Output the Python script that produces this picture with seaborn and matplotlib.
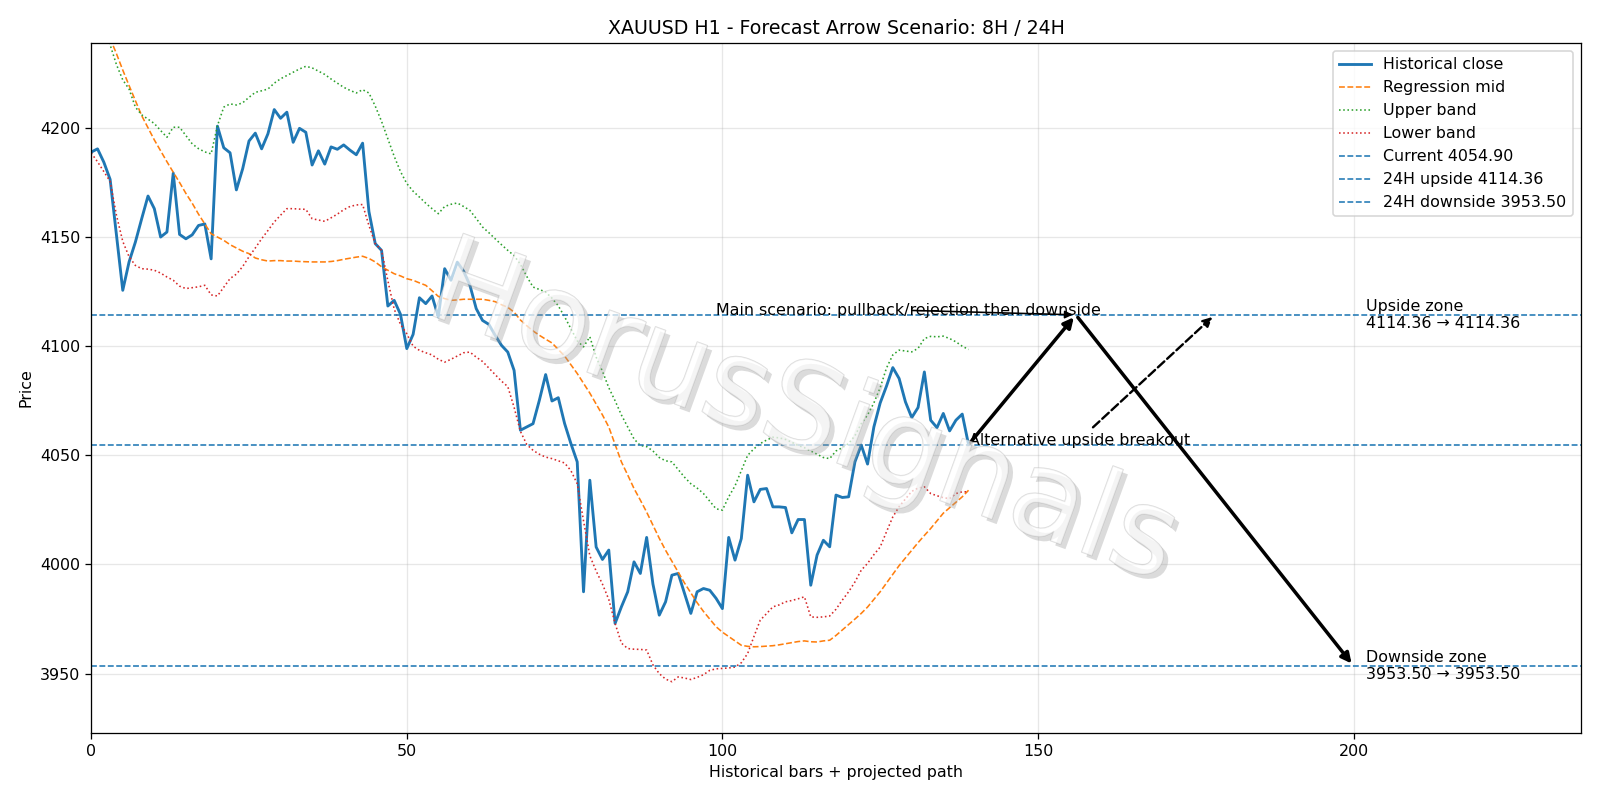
import numpy as np
import pandas as pd
import matplotlib
matplotlib.use("Agg")
import matplotlib.pyplot as plt
import matplotlib.patheffects as pe
import seaborn as sns

# Historical close and regression channel
close = [4188.9, 4190.4, 4184.3, 4176.4, 4151, 4125.6, 4138.6, 4147.7, 4158.4, 4168.8,
         4163, 4150, 4152.3, 4179.3, 4151.2, 4149.2, 4151, 4155.3, 4156, 4140,
         4200.8, 4190.9, 4188.6, 4171.6, 4181.3, 4194, 4197.6, 4190.4, 4197.3, 4208.4,
         4204.4, 4207.2, 4193.4, 4199.8, 4198, 4183, 4189.5, 4183.4, 4191.3, 4190.2,
         4192.2, 4189.8, 4187.7, 4193, 4161.7, 4147, 4143.9, 4118.4, 4121, 4114.6,
         4098.9, 4105.4, 4122.2, 4119.5, 4123, 4113.4, 4135.5, 4130.2, 4138.5, 4134.4,
         4127.9, 4117.2, 4111.8, 4110, 4105, 4100.4, 4097.3, 4088.9, 4061.5, 4063,
         4064.5, 4075.2, 4087, 4074.9, 4076.4, 4064.6, 4055.4, 4047, 3987.5, 4038.6,
         4008, 4002.3, 4006.6, 3973, 3980.6, 3987.5, 4001.2, 3995.9, 4012.4, 3991,
         3976.8, 3982.9, 3995.1, 3995.9, 3986.7, 3977.6, 3987.5, 3989, 3988.2, 3984.5,
         3979.8, 4012.4, 4002, 4011.9, 4040.9, 4028.7, 4034.4, 4034.8, 4026.4, 4026.4,
         4026.1, 4014.5, 4020.6, 4020.6, 3990.5, 4004.3, 4011.1, 4008.1, 4031.8, 4030.7,
         4031, 4047, 4054.7, 4046, 4063, 4074, 4081.7, 4090.2, 4085.2, 4074.5,
         4067.3, 4071.9, 4088.2, 4066.1, 4062.7, 4069.2, 4061.2, 4066.1, 4068.9, 4054.9]

reg_mid = [4263, 4255.5, 4248, 4241, 4234, 4226.5, 4219.4, 4212.5, 4205.6, 4200,
           4194.5, 4189.5, 4184.5, 4179.7, 4175, 4170, 4165.5, 4160.5, 4156, 4151.5,
           4150, 4148.5, 4146.5, 4145, 4143.5, 4142.4, 4140.4, 4139.6, 4139, 4139.2,
           4139.2, 4139, 4139, 4138.8, 4138.7, 4138.6, 4138.6, 4138.6, 4138.8, 4139.2,
           4139.8, 4140.3, 4140.8, 4141.2, 4140.2, 4138.6, 4136.4, 4134.8, 4133.2, 4132.2,
           4130.9, 4130.2, 4129, 4127.9, 4125.4, 4122.8, 4121.8, 4121, 4121.2, 4121.5,
           4121.5, 4121.5, 4121.5, 4121, 4120.4, 4119, 4117.8, 4115.6, 4112, 4109.4,
           4107, 4105, 4103.2, 4101.5, 4098.5, 4095.5, 4091.5, 4087.5, 4083, 4078.5,
           4073.5, 4068.5, 4063, 4055, 4047, 4041, 4034.8, 4029.5, 4024, 4018,
           4012, 4006.5, 4001.5, 3996.5, 3991.5, 3987, 3982.5, 3978.5, 3975, 3971.5,
           3969, 3967, 3965, 3963, 3962.5, 3962.3, 3962.4, 3962.6, 3962.8, 3963.2,
           3963.7, 3964.2, 3964.7, 3965, 3964.6, 3964.5, 3965, 3965.3, 3967.5, 3970,
           3972.5, 3975, 3977.6, 3980.5, 3984, 3987.5, 3991.5, 3995.5, 3999.5, 4003,
           4006.5, 4010, 4013.3, 4016.5, 4020, 4023.5, 4026, 4028.5, 4031, 4034]

upper_band = [4262, 4254, 4246, 4238, 4229, 4222, 4217.8, 4209.5, 4206, 4204,
              4202, 4198.8, 4195.7, 4200.3, 4200.3, 4196.5, 4192.7, 4190.5, 4189, 4188.1,
              4201, 4209.5, 4211, 4210.5, 4211.5, 4214, 4216.3, 4217, 4217.8, 4220.5,
              4222.5, 4224, 4225.5, 4227, 4228.2, 4227.5, 4226, 4224.5, 4222.4, 4220.5,
              4218.6, 4217.2, 4216, 4217.5, 4216, 4210, 4203, 4195, 4187, 4180,
              4174.5, 4171, 4168.3, 4165.5, 4163, 4160.7, 4164, 4165, 4165.6, 4164,
              4162.2, 4158.5, 4154.6, 4152, 4149.2, 4146.5, 4143.9, 4141.5, 4137.5, 4132,
              4127.1, 4126, 4124.8, 4122, 4118.5, 4113.5, 4108, 4102.5, 4099.7, 4104.3,
              4095, 4088.5, 4081, 4075, 4068.5, 4063, 4057.5, 4054.5, 4054, 4052,
              4049, 4047.5, 4047, 4043.5, 4040, 4037, 4035, 4032.5, 4029, 4025.5,
              4024.9, 4031, 4036, 4043, 4050, 4053, 4055.4, 4057, 4058.3, 4058,
              4057.3, 4056, 4054.5, 4053.5, 4052, 4050.5, 4049, 4048.5, 4052, 4053.5,
              4055.4, 4059, 4064.5, 4068.5, 4074, 4081, 4090, 4096, 4098.2, 4097.8,
              4097.4, 4099, 4103.5, 4104.5, 4104.3, 4104.6, 4103.5, 4102, 4100, 4098.5]

lower_band = [4188.5, 4184.5, 4180, 4175.5, 4160, 4148, 4141, 4137, 4135.5, 4135.3,
              4134.8, 4133.5, 4131.7, 4130.2, 4127.5, 4126.4, 4126.8, 4127.2, 4127.9, 4123.5,
              4123, 4127, 4131, 4133, 4136.5, 4141, 4145, 4149.2, 4153, 4156.9,
              4160, 4163, 4163, 4162.8, 4162.7, 4158.4, 4157.8, 4157.2, 4158.8, 4160.5,
              4162.5, 4164, 4164.7, 4164.9, 4155.3, 4147, 4143.9, 4130, 4117, 4110,
              4105.7, 4100, 4098.1, 4097, 4096, 4094, 4092.7, 4094, 4095.5, 4097,
              4097.3, 4095, 4093, 4090, 4087, 4084, 4081.5, 4072, 4061, 4055,
              4052.3, 4050.5, 4049.2, 4048.5, 4047.5, 4046.5, 4043, 4037, 4020, 4004,
              3997, 3991, 3984, 3973, 3964, 3961.5, 3961.2, 3961.1, 3960.8, 3954,
              3950, 3947.5, 3946.3, 3948.5, 3948, 3947.3, 3948.3, 3949.5, 3951.5, 3952.2,
              3952.4, 3952.6, 3953, 3955, 3959.2, 3967, 3974.5, 3977.5, 3980.6, 3981.5,
              3982.9, 3983.5, 3984.3, 3985.2, 3976, 3975.8, 3976, 3976.4, 3979.5, 3983.7,
              3987.5, 3992, 3997.4, 4000.5, 4004.5, 4008, 4015, 4021.8, 4026.5, 4030,
              4033.5, 4035, 4035.6, 4032.5, 4031.5, 4030.6, 4030.2, 4032.5, 4033.3, 4033.3]

# Levels and projected path
current = 4054.90
upside_24h = 4114.36
downside_24h = 3953.50
path_x = [139, 156, 200]          # current bar, 8H pivot, 24H target
path_y = [current, upside_24h, downside_24h]
alt_target_x = 178

df = pd.DataFrame({
    "bar": np.arange(len(close)),
    "close": close,
    "mid": reg_mid,
    "upper": upper_band,
    "lower": lower_band,
})

fig, ax = plt.subplots(figsize=(14, 7), dpi=1600 / 14)

sns.lineplot(data=df, x="bar", y="close", ax=ax, color="#1f77b4", linewidth=1.8,
             label="Historical close")
sns.lineplot(data=df, x="bar", y="mid", ax=ax, color="#ff7f0e", linewidth=1,
             linestyle="--", label="Regression mid")
sns.lineplot(data=df, x="bar", y="upper", ax=ax, color="#2ca02c", linewidth=1,
             linestyle=":", label="Upper band")
sns.lineplot(data=df, x="bar", y="lower", ax=ax, color="#d62728", linewidth=1,
             linestyle=":", label="Lower band")

ax.axhline(current, color="#1f77b4", linestyle="--", linewidth=1, label=f"Current {current:.2f}")
ax.axhline(upside_24h, color="#1f77b4", linestyle="--", linewidth=1, label=f"24H upside {upside_24h:.2f}")
ax.axhline(downside_24h, color="#1f77b4", linestyle="--", linewidth=1, label=f"24H downside {downside_24h:.2f}")

# main scenario path
for i in range(len(path_x) - 1):
    ax.annotate("", xy=(path_x[i + 1], path_y[i + 1]), xytext=(path_x[i], path_y[i]),
                arrowprops=dict(arrowstyle="-|>", color="black", lw=2.2, mutation_scale=13))

ax.annotate("Main scenario: pullback/rejection then downside",
            xy=(path_x[1], upside_24h), xytext=(path_x[0] - 40, upside_24h),
            arrowprops=dict(arrowstyle="-|>", color="black", lw=1))

ax.annotate("Alternative upside breakout",
            xy=(alt_target_x, upside_24h), xytext=(path_x[0], current),
            arrowprops=dict(arrowstyle="-|>", color="black", lw=1.5, linestyle="--",
                            mutation_scale=12))

ax.text(path_x[2] + 2, upside_24h, f"Upside zone\n{upside_24h:.2f} \u2192 {upside_24h:.2f}",
        va="center", ha="left", fontsize=10)
ax.text(path_x[2] + 2, downside_24h, f"Downside zone\n{downside_24h:.2f} \u2192 {downside_24h:.2f}",
        va="center", ha="left", fontsize=10)

# watermark
ax.text(0.478, 0.46, "HorusSignals", transform=ax.transAxes, fontsize=76,
        color="white", alpha=0.45, rotation=-20, ha="center", va="center", zorder=10,
        path_effects=[pe.SimplePatchShadow(offset=(3, -3), shadow_rgbFace="#999999", alpha=0.35),
                      pe.Stroke(linewidth=0.8, foreground="#b0b0b0"),
                      pe.Normal()])

ax.set_xlim(0, 236)
ax.set_ylim(3922.9, 4238.8)
ax.set_title("XAUUSD H1 - Forecast Arrow Scenario: 8H / 24H")
ax.set_xlabel("Historical bars + projected path")
ax.set_ylabel("Price")
ax.grid(True, alpha=0.3)
ax.legend(loc="upper right")

fig.subplots_adjust(left=0.057, right=0.988, top=0.946, bottom=0.084)
fig.savefig("out.png", dpi=1600 / 14)
